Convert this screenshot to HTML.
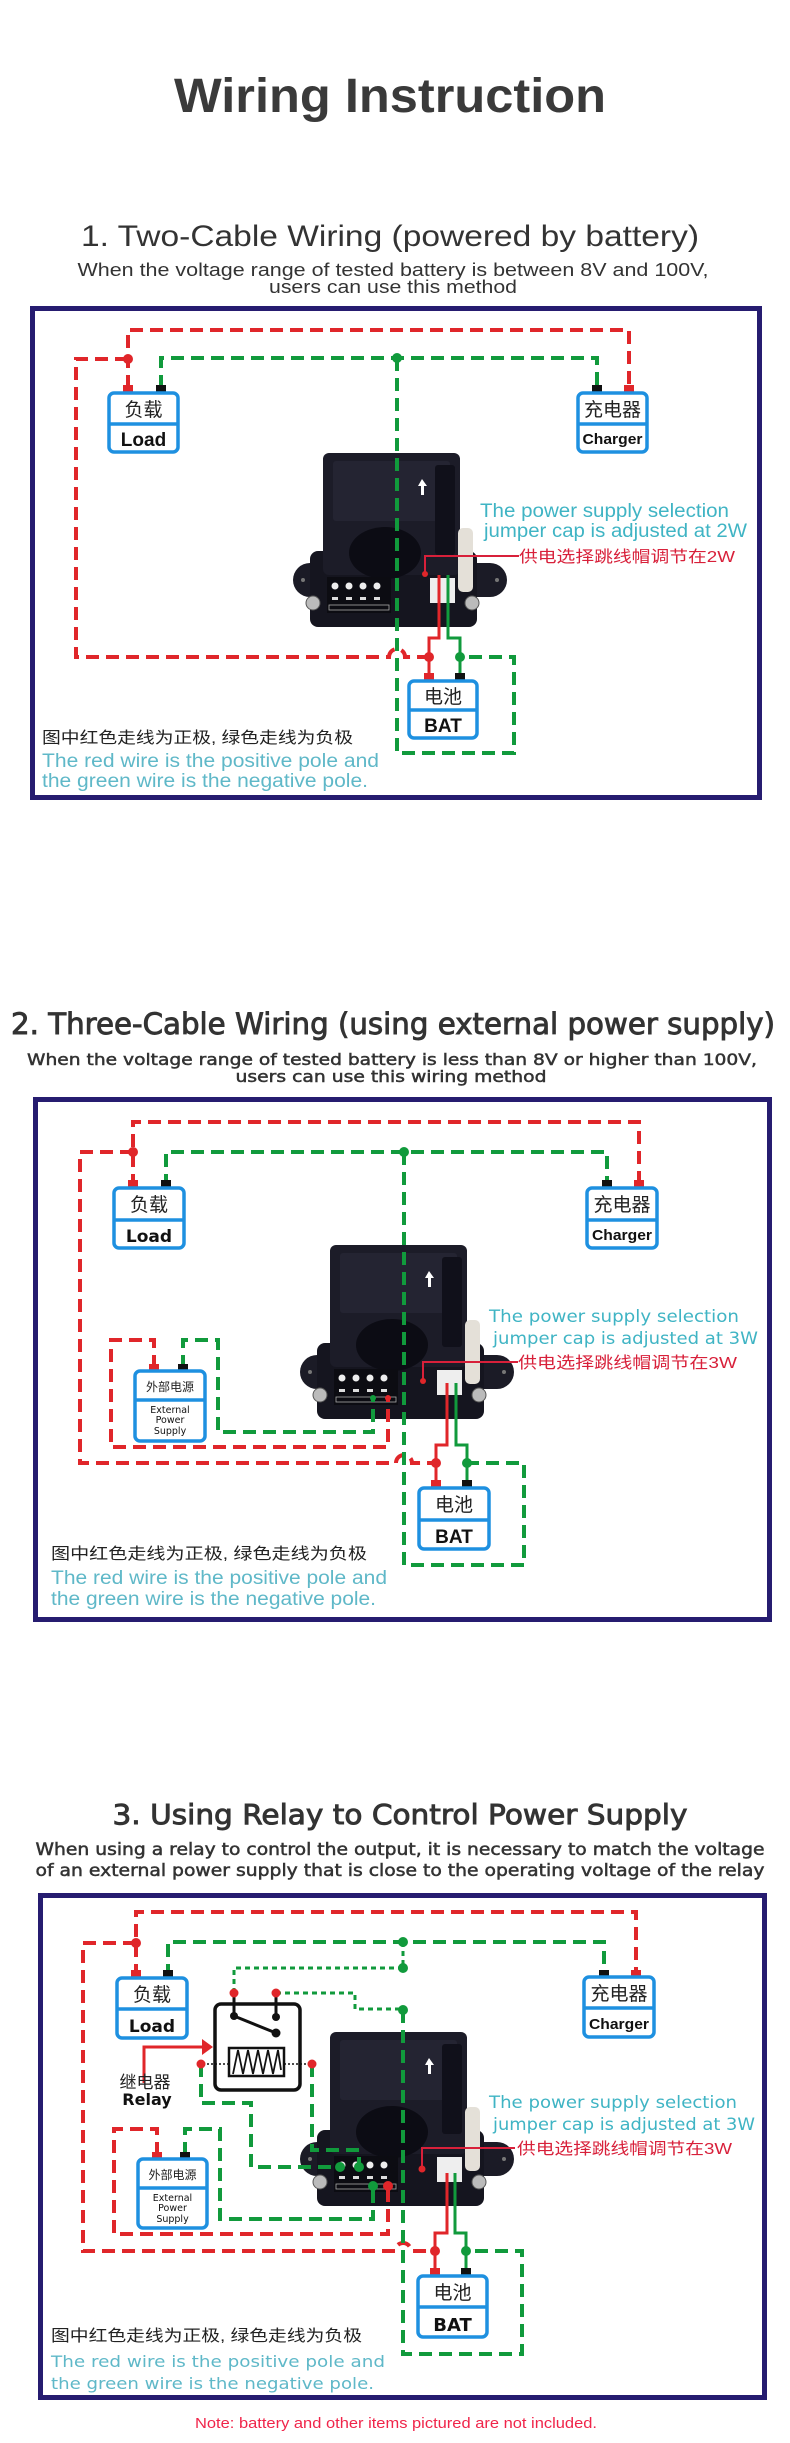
<!DOCTYPE html>
<html><head><meta charset="utf-8">
<style>
html,body{margin:0;padding:0;background:#fff;}
svg{display:block;}
.cj{font-family:"Liberation Sans","Noto Sans CJK SC",sans-serif;}
.ls{font-family:"Liberation Sans","Noto Sans CJK SC",sans-serif;}
.dv{font-family:"DejaVu Sans","Liberation Sans","Noto Sans CJK SC",sans-serif;}
.hd{stroke:#333;stroke-width:0.9;}
.sh{stroke:#333;stroke-width:0.5;}
.r{stroke:#e0262a;fill:none;stroke-width:4;stroke-dasharray:13 7;}
.g{stroke:#119a3c;fill:none;stroke-width:4;stroke-dasharray:13 7;}
.gd{stroke:#119a3c;fill:none;stroke-width:3;stroke-dasharray:5 4;}
.rs{stroke:#e0262a;fill:none;stroke-width:3;}
.gs{stroke:#119a3c;fill:none;stroke-width:3;}
.frame{fill:none;stroke:#261c70;stroke-width:5;}
.bx{fill:#fff;stroke:#1e90e0;stroke-width:3.5;}
.dl{stroke:#1e90e0;stroke-width:3.5;}
</style></head><body>
<svg width="790" height="2443" viewBox="0 0 790 2443" xmlns="http://www.w3.org/2000/svg">
<defs>
<g id="dev">
  <rect x="-30" y="110" width="214" height="34" rx="17" fill="#1b1b26"/>
  <rect x="-13" y="98" width="167" height="76" rx="8" fill="#15151f"/>
  <rect x="0" y="0" width="137" height="122" rx="6" fill="#1c1c28"/>
  <rect x="10" y="8" width="117" height="60" rx="3" fill="#242432"/>
  <rect x="112" y="12" width="20" height="90" rx="3" fill="#10101a"/>
  <ellipse cx="62" cy="100" rx="36" ry="26" fill="#0c0c14"/>
  <rect x="135" y="75" width="15" height="64" rx="5" fill="#e4e0d8"/>
  <rect x="4" y="124" width="64" height="36" fill="#0c0c12"/>
  <circle cx="12" cy="133" r="3.5" fill="#eee"/><circle cx="26" cy="133" r="3.5" fill="#eee"/>
  <circle cx="40" cy="133" r="3.5" fill="#eee"/><circle cx="54" cy="133" r="3.5" fill="#eee"/>
  <rect x="9" y="144" width="6" height="3" fill="#ddd"/><rect x="23" y="144" width="6" height="3" fill="#ddd"/>
  <rect x="37" y="144" width="6" height="3" fill="#ddd"/><rect x="51" y="144" width="6" height="3" fill="#ddd"/>
  <rect x="6" y="152" width="60" height="5" fill="none" stroke="#aaa" stroke-width="0.8"/>
  <rect x="107" y="125" width="25" height="25" fill="#eee"/>
  <circle cx="-10" cy="150" r="7" fill="#bbb" stroke="#555"/>
  <circle cx="149" cy="150" r="7" fill="#bbb" stroke="#555"/>
  <circle cx="-20" cy="127" r="2" fill="#777"/><circle cx="174" cy="127" r="2" fill="#777"/>
  <path d="M99,26 L95,33 H98 V42 H101 V33 H104 Z" fill="#fff"/>
</g>
</defs>

<text x="390" y="112" text-anchor="middle" class="ls" font-size="48" font-weight="bold" fill="#3a3a3a" textLength="432" lengthAdjust="spacingAndGlyphs">Wiring Instruction</text>

<!-- SECTION 1 -->
<text x="390" y="246" text-anchor="middle" class="ls" font-size="30" fill="#333" textLength="618" lengthAdjust="spacingAndGlyphs">1. Two-Cable Wiring (powered by battery)</text>
<text x="393" y="276" text-anchor="middle" class="ls" font-size="18" fill="#333" textLength="631" lengthAdjust="spacingAndGlyphs">When the voltage range of tested battery is between 8V and 100V,</text>
<text x="393" y="293" text-anchor="middle" class="ls" font-size="18" fill="#333" textLength="248" lengthAdjust="spacingAndGlyphs">users can use this method</text>
<rect class="frame" x="32.5" y="308.5" width="727" height="489"/>

<use href="#dev" x="323" y="453"/>

<path class="r" d="M128,388 V330 H629 V388"/>
<path class="r" d="M128,359 H76 V657 H389 A8,8 0 0 1 405,657 H429"/>
<path class="g" d="M161,388 V358 H597 V388"/>
<path class="g" d="M397,358 V753 H514 V657 H460"/>
<path class="rs" d="M439,575 V638 H429 V675"/>
<path class="gs" d="M448,575 V638 H460 V675"/>
<circle cx="128" cy="359" r="5" fill="#e0262a"/><circle cx="429" cy="657" r="5" fill="#e0262a"/>
<circle cx="397" cy="358" r="5" fill="#119a3c"/><circle cx="460" cy="657" r="5" fill="#119a3c"/>
<path d="M519,556 H425 V573" stroke="#d8203a" stroke-width="2" fill="none"/><circle cx="425" cy="574" r="3" fill="#e0262a"/>

<rect x="123" y="385" width="10" height="8" fill="#e0262a"/><rect x="156" y="385" width="10" height="8" fill="#111"/>
<rect class="bx" x="109" y="393" width="69" height="59" rx="5"/><line class="dl" x1="109" y1="424" x2="178" y2="424"/>
<text x="143.5" y="416" text-anchor="middle" class="cj" font-size="19" fill="#222">负载</text>
<text x="143.5" y="446" text-anchor="middle" class="ls" font-size="19" font-weight="bold" fill="#111">Load</text>
<rect x="592" y="385" width="10" height="8" fill="#111"/><rect x="624" y="385" width="10" height="8" fill="#e0262a"/>
<rect class="bx" x="578" y="393" width="69" height="59" rx="5"/><line class="dl" x1="578" y1="424" x2="647" y2="424"/>
<text x="612.5" y="416" text-anchor="middle" class="cj" font-size="19" fill="#222">充电器</text>
<text x="612.5" y="444" text-anchor="middle" class="ls" font-size="15" font-weight="bold" fill="#111" textLength="60" lengthAdjust="spacingAndGlyphs">Charger</text>
<rect x="424" y="673" width="10" height="8" fill="#e0262a"/><rect x="455" y="673" width="10" height="8" fill="#111"/>
<rect class="bx" x="409" y="681" width="68" height="57" rx="5"/><line class="dl" x1="409" y1="710" x2="477" y2="710"/>
<text x="443" y="703" text-anchor="middle" class="cj" font-size="19" fill="#222">电池</text>
<text x="443" y="732" text-anchor="middle" class="ls" font-size="19" font-weight="bold" fill="#111">BAT</text>

<text x="480" y="517" class="ls" font-size="19" fill="#3fb4c4" textLength="249" lengthAdjust="spacingAndGlyphs">The power supply selection</text>
<text x="484" y="537" class="ls" font-size="19" fill="#3fb4c4" textLength="263" lengthAdjust="spacingAndGlyphs">jumper cap is adjusted at 2W</text>
<text x="519" y="562" class="cj" font-size="16" fill="#d8203a" textLength="216" lengthAdjust="spacingAndGlyphs">供电选择跳线帽调节在2W</text>
<text x="42" y="743" class="cj" font-size="16" fill="#222" textLength="311" lengthAdjust="spacingAndGlyphs">图中红色走线为正极, 绿色走线为负极</text>
<text x="42" y="767" class="ls" font-size="19" fill="#5fb8c8" textLength="337" lengthAdjust="spacingAndGlyphs">The red wire is the positive pole and</text>
<text x="42" y="787" class="ls" font-size="19" fill="#5fb8c8" textLength="326" lengthAdjust="spacingAndGlyphs">the green wire is the negative pole.</text>

<!-- SECTION 2 -->
<text x="393" y="1034" text-anchor="middle" class="dv hd" font-size="29" fill="#333" textLength="764" lengthAdjust="spacingAndGlyphs">2. Three-Cable Wiring (using external power supply)</text>
<text x="392" y="1065" text-anchor="middle" class="dv sh" font-size="16" fill="#333" textLength="730" lengthAdjust="spacingAndGlyphs">When the voltage range of tested battery is less than 8V or higher than 100V,</text>
<text x="391" y="1082" text-anchor="middle" class="dv sh" font-size="16" fill="#333" textLength="311" lengthAdjust="spacingAndGlyphs">users can use this wiring method</text>
<rect class="frame" x="35.5" y="1099.5" width="734" height="520"/>

<use href="#dev" x="330" y="1245"/>

<path class="r" d="M133,1187 V1122 H639 V1187"/>
<path class="r" d="M133,1152 H80 V1463 H396 A8,8 0 0 1 412,1463 H436"/>
<path class="g" d="M166,1187 V1152 H607 V1187"/>
<path class="g" d="M404,1152 V1565 H524 V1463 H467"/>
<path class="r" d="M154,1368 V1340 H111 V1447 H388 V1397"/>
<path class="g" d="M183,1368 V1340 H218 V1432 H373 V1397"/>
<path class="rs" d="M447,1383 V1445 H436 V1485"/>
<path class="gs" d="M456,1383 V1445 H467 V1485"/>
<circle cx="133" cy="1152" r="5" fill="#e0262a"/><circle cx="436" cy="1463" r="5" fill="#e0262a"/>
<circle cx="404" cy="1152" r="5" fill="#119a3c"/><circle cx="467" cy="1463" r="5" fill="#119a3c"/>
<circle cx="388" cy="1398" r="3" fill="#e0262a"/><circle cx="373" cy="1398" r="3" fill="#119a3c"/>
<path d="M518,1362 H423 V1380" stroke="#d8203a" stroke-width="2" fill="none"/><circle cx="423" cy="1381" r="3" fill="#e0262a"/>

<rect x="128" y="1180" width="10" height="8" fill="#e0262a"/><rect x="161" y="1180" width="10" height="8" fill="#111"/>
<rect class="bx" x="114" y="1188" width="70" height="60" rx="5"/><line class="dl" x1="114" y1="1220" x2="184" y2="1220"/>
<text x="149" y="1211" text-anchor="middle" class="cj" font-size="19" fill="#222">负载</text>
<text x="149" y="1242" text-anchor="middle" class="dv" font-size="17" font-weight="bold" fill="#111">Load</text>
<rect x="602" y="1180" width="10" height="8" fill="#111"/><rect x="634" y="1180" width="10" height="8" fill="#e0262a"/>
<rect class="bx" x="587" y="1188" width="70" height="60" rx="5"/><line class="dl" x1="587" y1="1220" x2="657" y2="1220"/>
<text x="622" y="1211" text-anchor="middle" class="cj" font-size="19" fill="#222">充电器</text>
<text x="622" y="1240" text-anchor="middle" class="ls" font-size="15" font-weight="bold" fill="#111" textLength="60" lengthAdjust="spacingAndGlyphs">Charger</text>
<rect x="149" y="1364" width="10" height="7" fill="#e0262a"/><rect x="178" y="1364" width="10" height="7" fill="#111"/>
<rect class="bx" x="135" y="1371" width="70" height="70" rx="5"/><line class="dl" x1="135" y1="1400" x2="205" y2="1400"/>
<text x="170" y="1391" text-anchor="middle" class="cj" font-size="12" fill="#222">外部电源</text>
<text x="170" y="1413" text-anchor="middle" class="dv" font-size="9.5" fill="#111">External</text>
<text x="170" y="1423" text-anchor="middle" class="dv" font-size="9.5" fill="#111">Power</text>
<text x="170" y="1434" text-anchor="middle" class="dv" font-size="9.5" fill="#111">Supply</text>
<rect x="431" y="1480" width="10" height="8" fill="#e0262a"/><rect x="462" y="1480" width="10" height="8" fill="#111"/>
<rect class="bx" x="419" y="1488" width="70" height="61" rx="5"/><line class="dl" x1="419" y1="1520" x2="489" y2="1520"/>
<text x="454" y="1511" text-anchor="middle" class="cj" font-size="19" fill="#222">电池</text>
<text x="454" y="1543" text-anchor="middle" class="ls" font-size="19" font-weight="bold" fill="#111">BAT</text>

<text x="489" y="1322" class="dv" font-size="17" fill="#3fb4c4" textLength="250" lengthAdjust="spacingAndGlyphs">The power supply selection</text>
<text x="493" y="1344" class="dv" font-size="17" fill="#3fb4c4" textLength="265" lengthAdjust="spacingAndGlyphs">jumper cap is adjusted at 3W</text>
<text x="518" y="1368" class="cj" font-size="16" fill="#d8203a" textLength="219" lengthAdjust="spacingAndGlyphs">供电选择跳线帽调节在3W</text>
<text x="51" y="1559" class="cj" font-size="16" fill="#222" textLength="316" lengthAdjust="spacingAndGlyphs">图中红色走线为正极, 绿色走线为负极</text>
<text x="51" y="1584" class="ls" font-size="19" fill="#5fb8c8" textLength="336" lengthAdjust="spacingAndGlyphs">The red wire is the positive pole and</text>
<text x="51" y="1605" class="ls" font-size="19" fill="#5fb8c8" textLength="325" lengthAdjust="spacingAndGlyphs">the green wire is the negative pole.</text>

<!-- SECTION 3 -->
<text x="400" y="1824" text-anchor="middle" class="dv hd" font-size="28" fill="#333" textLength="575" lengthAdjust="spacingAndGlyphs">3. Using Relay to Control Power Supply</text>
<text x="400" y="1855" text-anchor="middle" class="dv sh" font-size="16.5" fill="#333" textLength="729" lengthAdjust="spacingAndGlyphs">When using a relay to control the output, it is necessary to match the voltage</text>
<text x="400" y="1876" text-anchor="middle" class="dv sh" font-size="16.5" fill="#333" textLength="729" lengthAdjust="spacingAndGlyphs">of an external power supply that is close to the operating voltage of the relay</text>
<rect class="frame" x="40.5" y="1895.5" width="724" height="502"/>

<use href="#dev" x="330" y="2032"/>

<path class="r" d="M136,1977 V1912 H636 V1977"/>
<path class="r" d="M136,1943 H83 V2251 H395 A8,8 0 0 1 411,2251 H435"/>
<path class="g" d="M168,1977 V1942 H604 V1977"/>
<path class="gd" d="M403,1942 V1968"/>
<path class="gd" d="M403,1968 H234 V1993"/>
<path class="gd" d="M276,1993 H355 V2009 H403"/>
<path class="g" d="M403,2010 V2354 H522 V2251 H466"/>
<path class="g" d="M201,2064 V2103 H251 V2167 H340"/>
<path class="g" d="M312,2064 V2150 H359 V2167"/>
<path class="r" d="M157,2155 V2129 H114 V2234 H388 V2186"/>
<path class="g" d="M185,2155 V2129 H220 V2219 H373 V2186"/>
<path class="rs" d="M447,2173 V2233 H435 V2273"/>
<path class="gs" d="M455,2173 V2233 H466 V2273"/>
<circle cx="136" cy="1943" r="5" fill="#e0262a"/><circle cx="435" cy="2251" r="5" fill="#e0262a"/>
<circle cx="403" cy="1942" r="5" fill="#119a3c"/><circle cx="403" cy="1968" r="5" fill="#119a3c"/>
<circle cx="403" cy="2010" r="5" fill="#119a3c"/><circle cx="466" cy="2251" r="5" fill="#119a3c"/>
<circle cx="340" cy="2167" r="5" fill="#119a3c"/><circle cx="359" cy="2167" r="5" fill="#119a3c"/>
<circle cx="373" cy="2186" r="5" fill="#119a3c"/><circle cx="388" cy="2186" r="5" fill="#e0262a"/>
<path d="M515,2148 H422 V2168" stroke="#d8203a" stroke-width="2" fill="none"/><circle cx="422" cy="2169" r="3.5" fill="#e0262a"/>

<rect x="215" y="2004" width="85" height="86" rx="6" fill="#fff" stroke="#111" stroke-width="3.5"/>
<path d="M234,1993 V2016 M276,1993 V2017 M234,2016 L276,2033" stroke="#111" stroke-width="3" fill="none"/>
<circle cx="234" cy="2016" r="4" fill="#111"/><circle cx="276" cy="2017" r="4" fill="#111"/><circle cx="276" cy="2033" r="4.5" fill="#111"/>
<circle cx="234" cy="1993" r="4.5" fill="#e0262a"/><circle cx="276" cy="1993" r="4.5" fill="#e0262a"/>
<rect x="229" y="2048" width="55" height="28" fill="#fff" stroke="#111" stroke-width="2.5"/>
<path d="M233,2074 L238,2050 L243,2074 L248,2050 L253,2074 L258,2050 L263,2074 L268,2050 L273,2074 L278,2050 L281,2070" stroke="#111" stroke-width="1.8" fill="none"/>
<path d="M203,2064 H229 M284,2064 H310" stroke="#111" stroke-width="1.5" stroke-dasharray="2 2"/>
<circle cx="201" cy="2064" r="4.5" fill="#e0262a"/><circle cx="312" cy="2064" r="4.5" fill="#e0262a"/>
<path d="M144,2083 V2047 H204" stroke="#e0262a" stroke-width="3" fill="none"/>
<polygon points="202,2039 213,2047 202,2055" fill="#e0262a"/>
<text x="145" y="2088" text-anchor="middle" class="cj" font-size="17" fill="#222">继电器</text>
<text x="147" y="2105" text-anchor="middle" class="dv" font-size="16" font-weight="bold" fill="#111">Relay</text>

<rect x="131" y="1970" width="10" height="8" fill="#e0262a"/><rect x="163" y="1970" width="10" height="8" fill="#111"/>
<rect class="bx" x="117" y="1978" width="70" height="60" rx="5"/><line class="dl" x1="117" y1="2009" x2="187" y2="2009"/>
<text x="152" y="2001" text-anchor="middle" class="cj" font-size="19" fill="#222">负载</text>
<text x="152" y="2032" text-anchor="middle" class="dv" font-size="17" font-weight="bold" fill="#111">Load</text>
<rect x="599" y="1970" width="10" height="8" fill="#111"/><rect x="631" y="1970" width="10" height="8" fill="#e0262a"/>
<rect class="bx" x="584" y="1977" width="70" height="60" rx="5"/><line class="dl" x1="584" y1="2008" x2="654" y2="2008"/>
<text x="619" y="2000" text-anchor="middle" class="cj" font-size="19" fill="#222">充电器</text>
<text x="619" y="2029" text-anchor="middle" class="ls" font-size="15" font-weight="bold" fill="#111" textLength="60" lengthAdjust="spacingAndGlyphs">Charger</text>
<rect x="152" y="2152" width="10" height="7" fill="#e0262a"/><rect x="180" y="2152" width="10" height="7" fill="#111"/>
<rect class="bx" x="138" y="2159" width="69" height="69" rx="5"/><line class="dl" x1="138" y1="2188" x2="207" y2="2188"/>
<text x="172.5" y="2179" text-anchor="middle" class="cj" font-size="12" fill="#222">外部电源</text>
<text x="172.5" y="2201" text-anchor="middle" class="dv" font-size="9.5" fill="#111">External</text>
<text x="172.5" y="2211" text-anchor="middle" class="dv" font-size="9.5" fill="#111">Power</text>
<text x="172.5" y="2222" text-anchor="middle" class="dv" font-size="9.5" fill="#111">Supply</text>
<rect x="430" y="2268" width="10" height="8" fill="#e0262a"/><rect x="461" y="2268" width="10" height="8" fill="#111"/>
<rect class="bx" x="418" y="2276" width="69" height="61" rx="5"/><line class="dl" x1="418" y1="2307" x2="487" y2="2307"/>
<text x="452.5" y="2299" text-anchor="middle" class="cj" font-size="19" fill="#222">电池</text>
<text x="452.5" y="2331" text-anchor="middle" class="dv" font-size="18" font-weight="bold" fill="#111">BAT</text>

<text x="489" y="2108" class="dv" font-size="17" fill="#3fb4c4" textLength="248" lengthAdjust="spacingAndGlyphs">The power supply selection</text>
<text x="493" y="2130" class="dv" font-size="17" fill="#3fb4c4" textLength="262" lengthAdjust="spacingAndGlyphs">jumper cap is adjusted at 3W</text>
<text x="517" y="2154" class="cj" font-size="16" fill="#d8203a" textLength="215" lengthAdjust="spacingAndGlyphs">供电选择跳线帽调节在3W</text>
<text x="51" y="2341" class="cj" font-size="16" fill="#222" textLength="311" lengthAdjust="spacingAndGlyphs">图中红色走线为正极, 绿色走线为负极</text>
<text x="51" y="2367" class="dv" font-size="16" fill="#5fb8c8" textLength="334" lengthAdjust="spacingAndGlyphs">The red wire is the positive pole and</text>
<text x="51" y="2389" class="dv" font-size="16" fill="#5fb8c8" textLength="323" lengthAdjust="spacingAndGlyphs">the green wire is the negative pole.</text>

<text x="396" y="2428" text-anchor="middle" class="ls" font-size="15" fill="#f0254a" textLength="402" lengthAdjust="spacingAndGlyphs">Note: battery and other items pictured are not included.</text>
</svg>
</body></html>
